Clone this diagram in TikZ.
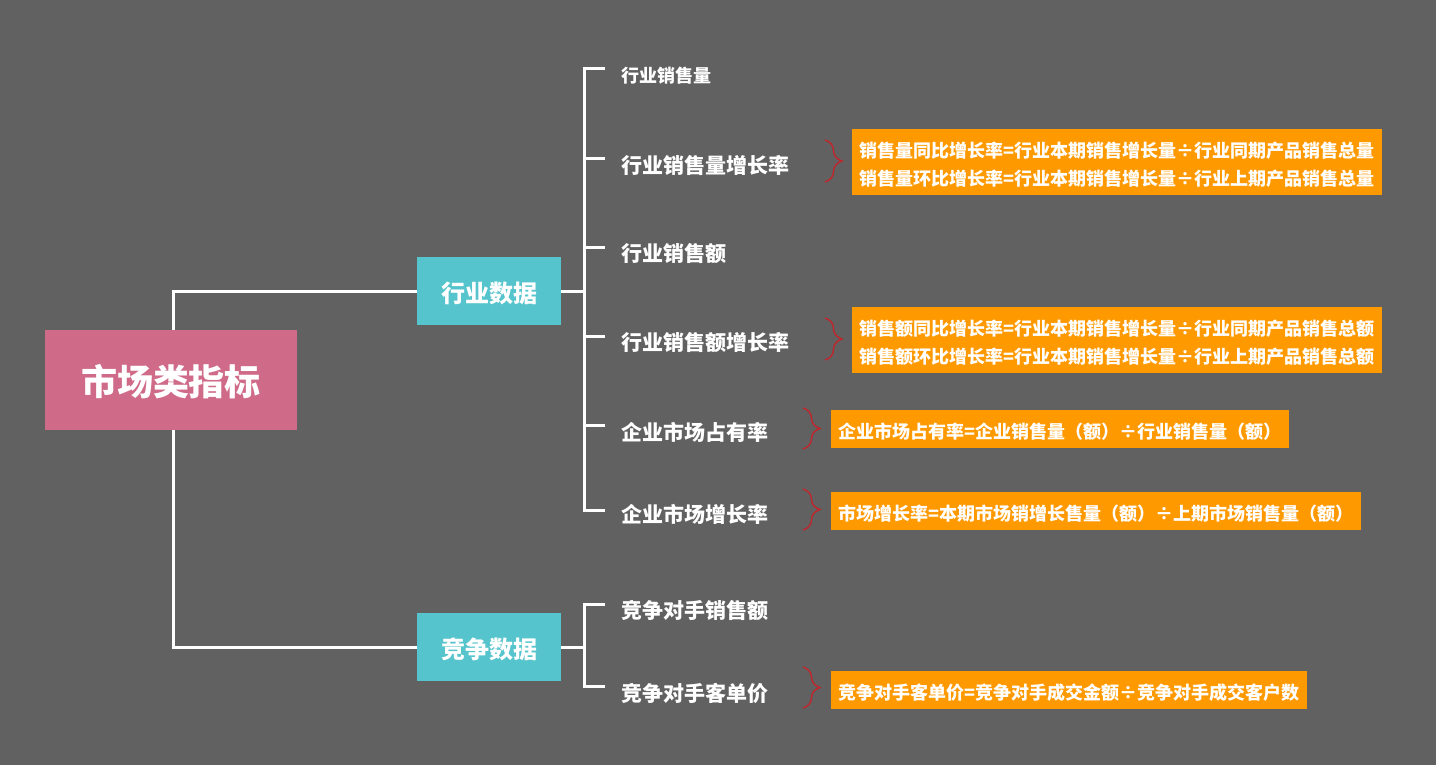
\documentclass[tikz,border=0pt]{standalone}
\usepackage{fontspec}
\setmainfont{Noto Sans CJK SC}
\usetikzlibrary{decorations.pathreplacing}
\definecolor{bgcol}{HTML}{616161}
\definecolor{rootcol}{HTML}{CF6B88}
\definecolor{groupcol}{HTML}{55C4CC}
\definecolor{formcol}{HTML}{FF9900}
\definecolor{bracecol}{HTML}{C0262C}
\begin{document}
\begin{tikzpicture}[x=1pt,y=-1pt,
  link/.style={draw=white,line width=3pt},
  % filled box whose caption sits slightly below the geometric centre
  capbox/.style 2 args={inner sep=0pt,
    label={[text=white,inner sep=0pt,align=center,yshift=-#1,font=#2]center:\boxcaption}},
  rootbox/.style={fill=rootcol,minimum width=252pt,minimum height=100pt,
    capbox={2pt}{\fontsize{36}{40}\selectfont\bfseries}},
  groupbox/.style={fill=groupcol,minimum width=144pt,minimum height=68pt,
    capbox={2pt}{\fontsize{24}{28}\selectfont\bfseries}},
  formula/.style={fill=formcol,anchor=north west,
    capbox={2.5pt}{\fontsize{18}{28}\selectfont\bfseries}},
  leaf/.style={text=white,inner sep=0pt,anchor=west,font=\fontsize{21}{24}\selectfont\bfseries},
  smallleaf/.style={leaf,font=\fontsize{18}{22}\selectfont\bfseries},
  curly/.style={draw=bracecol,line width=1.4pt,decorate,decoration={brace,amplitude=17pt}}]

% background
\fill[bgcol] (0,0) rectangle (1436,765);
\useasboundingbox (0,0) rectangle (1436,765);

% main nodes
\def\boxcaption{市场类指标}
\node[rootbox] (root) at (171,380) {};
\def\boxcaption{行业数据}
\node[groupbox] (ind) at (489,291) {};
\def\boxcaption{竞争数据}
\node[groupbox] (comp) at (489,647) {};

% root connectors
\draw[link] ([xshift=2pt]root.north) |- (ind.west);
\draw[link] ([xshift=2pt]root.south) |- (comp.west);

% industry leaves
\node[smallleaf] (l1) at (621,75.5) {行业销售量};
\node[leaf] (l2) at (621,165) {行业销售量增长率};
\node[leaf] (l3) at (621,254) {行业销售额};
\node[leaf] (l4) at (621,343) {行业销售额增长率};
\node[leaf] (l5) at (621,432) {企业市场占有率};
\node[leaf] (l6) at (621,514) {企业市场增长率};

% competition leaves
\node[leaf] (c1) at (621,611) {竞争对手销售额};
\node[leaf] (c2) at (621,693) {竞争对手客单价};

% bracket spines
\coordinate (spine) at (584,0);
\coordinate (t1) at (605,69);
\coordinate (t2) at (605,159);
\coordinate (t3) at (605,247);
\coordinate (t4) at (605,336);
\coordinate (t5) at (605,425);
\coordinate (t6) at (605,510);
\coordinate (u1) at (605,604);
\coordinate (u2) at (605,686);

\draw[link] (ind.east) -- (ind.east -| spine);
\draw[link] (t1) -- (t1 -| spine) -- (t6 -| spine) -- (t6);
\foreach \t in {t2,t3,t4,t5} \draw[link] (\t -| spine) -- (\t);

\draw[link] (comp.east) -- (comp.east -| spine);
\draw[link] (u1) -- (u1 -| spine) -- (u2 -| spine) -- (u2);

% formulas
\def\boxcaption{销售量同比增长率=行业本期销售增长量÷行业同期产品销售总量\\销售量环比增长率=行业本期销售增长量÷行业上期产品销售总量}
\node[formula,minimum width=530pt,minimum height=66pt] (f1) at (852,129) {};
\def\boxcaption{销售额同比增长率=行业本期销售增长量÷行业同期产品销售总额\\销售额环比增长率=行业本期销售增长量÷行业上期产品销售总额}
\node[formula,minimum width=530pt,minimum height=66pt] (f2) at (852,307) {};
\def\boxcaption{企业市场占有率=企业销售量（额）÷行业销售量（额）}
\node[formula,minimum width=458pt,minimum height=38pt] (f3) at (831,410) {};
\def\boxcaption{市场增长率=本期市场销增长售量（额）÷上期市场销售量（额）}
\node[formula,minimum width=530pt,minimum height=38pt] (f4) at (831,492) {};
\def\boxcaption{竞争对手客单价=竞争对手成交金额÷竞争对手成交客户数}
\node[formula,minimum width=476pt,minimum height=38pt] (f5) at (831,671) {};

% braces
\draw[curly] (825,140) -- (825,182);
\draw[curly] (825,318) -- (825,360);
\draw[curly] (803,408) -- (803,449);
\draw[curly] (803,489) -- (803,530);
\draw[curly] (803,667) -- (803,708);
\end{tikzpicture}
\end{document}
